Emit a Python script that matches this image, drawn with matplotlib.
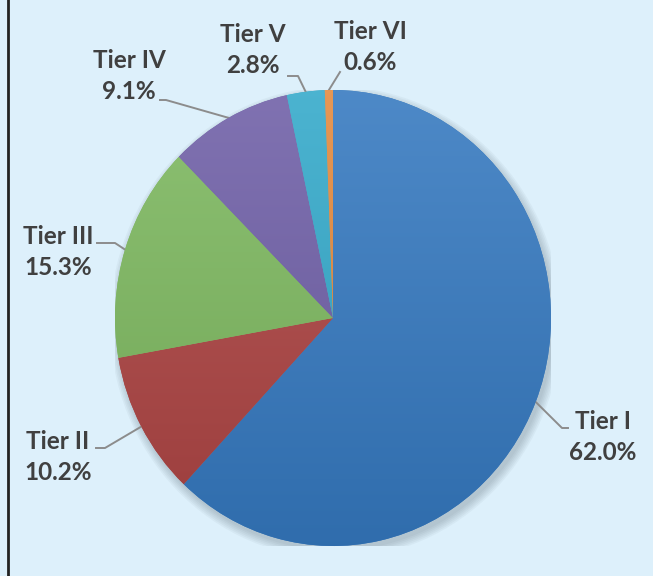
import numpy as np
import matplotlib
matplotlib.use('Agg')
import matplotlib.pyplot as plt
from matplotlib.colors import to_rgb
from matplotlib.patches import Ellipse
from matplotlib.lines import Line2D

tiers = ['Tier I', 'Tier II', 'Tier III', 'Tier IV', 'Tier V', 'Tier VI']
shares = [62.0, 10.2, 15.3, 9.1, 2.8, 0.6]
colors = ['#3579C0', '#AD4443', '#7DB85F', '#6F5FA7', '#33A9CA', '#E3893D']

# label layout, in pixels of the 653x576 picture
text_pos = [(603, 437), (58, 457), (58, 252), (129, 76), (253, 50), (370, 47)]
elbow_pos = [(562, 428), (105, 448), (115, 243), (166, 100), (298, 76), (340, 72)]
end_pos = [(568, 428), (96, 448), (97, 243), (160, 100), (288, 76), (340, 72)]

W, H = 653, 576
CX, CY, RX, RY = 333, 318, 218, 228


def px(x, y):
    return ((x - CX) / RX, (CY - y) / RY)


fig = plt.figure(figsize=(W / 100, H / 100), dpi=100)
fig.patch.set_facecolor('#DDF0FB')
ax = fig.add_axes([(CX - RX) / W, (H - CY - RY) / H, 2 * RX / W, 2 * RY / H])

# soft shadow under the pie
for k in np.linspace(1.0, 1.035, 6):
    ax.add_patch(Ellipse((0.012, -0.02), 2 * k, 2 * k, color='#4a5a66',
                         alpha=0.05, lw=0, zorder=0))

wedges, _ = ax.pie(shares, colors=colors, startangle=90, counterclock=False,
                   radius=1, wedgeprops=dict(linewidth=0))

grad = np.linspace(0, 1, 256)[:, None, None]
for w, c in zip(wedges, colors):
    base = np.array(to_rgb(c))
    top = base + (1 - base) * 0.12
    bot = base * 0.9
    img = top * (1 - grad) + bot * grad
    im = ax.imshow(img, extent=(-1, 1, -1, 1), origin='upper', aspect='auto',
                   zorder=w.get_zorder() + 0.1)
    im.set_clip_path(w)

cum = np.cumsum(shares)
for i, name in enumerate(tiers):
    mid = np.deg2rad(90 - 3.6 * (cum[i] - shares[i] / 2))
    sx, sy = np.cos(mid), np.sin(mid)
    ex, ey = px(*elbow_pos[i])
    fx, fy = px(*end_pos[i])
    ax.plot([sx, ex, fx], [sy, ey, fy], color='#8C8C8C', lw=1.4,
            clip_on=False, zorder=1)
    tx, ty = px(*text_pos[i])
    ax.text(tx, ty, f'{name}\n{shares[i]:.1f}%', ha='center', va='center',
            fontsize=17.5, fontweight='bold', family=['Lato', 'DejaVu Sans'],
            color='#404040', linespacing=1.45, clip_on=False)

ax.set_aspect('auto')
ax.set_xlim(-1, 1)
ax.set_ylim(-1, 1)
ax.axis('off')

fig.add_artist(Line2D([7.5 / W, 7.5 / W], [0, 1], color='#222222', lw=2))

fig.savefig('out.png', dpi=100, facecolor=fig.get_facecolor())
